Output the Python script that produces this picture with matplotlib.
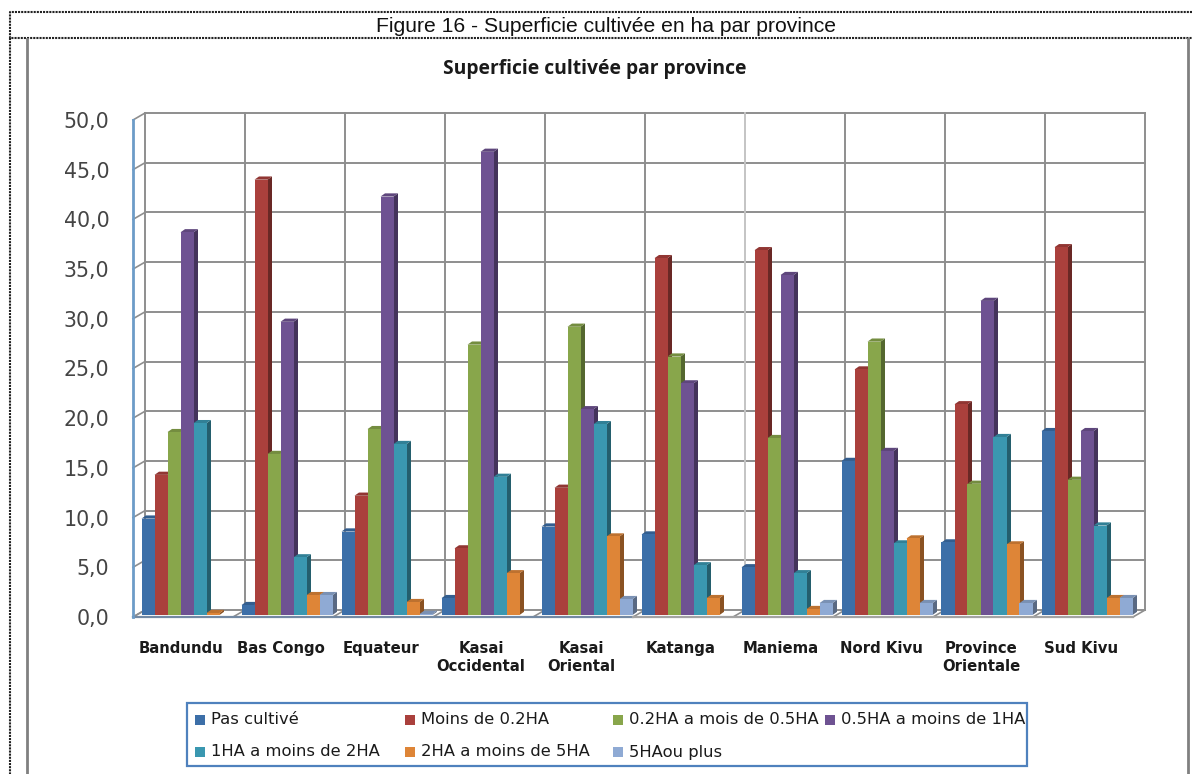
import matplotlib
matplotlib.use('Agg')
import matplotlib.pyplot as plt
from matplotlib.patches import Rectangle
from matplotlib.colors import to_rgb

provinces = ['Bandundu', 'Bas Congo', 'Equateur', 'Kasai\nOccidental', 'Kasai\nOriental',
             'Katanga', 'Maniema', 'Nord Kivu', 'Province\nOrientale', 'Sud Kivu']
pas_cultive = [9.7, 1.0, 8.4, 1.7, 8.9, 8.1, 4.8, 15.5, 7.3, 18.5]
moins_02 = [14.1, 43.8, 12.0, 6.7, 12.8, 35.9, 36.7, 24.7, 21.2, 37.0]
de_02_05 = [18.4, 16.2, 18.7, 27.2, 29.0, 26.0, 17.8, 27.5, 13.2, 13.6]
de_05_1 = [38.5, 29.5, 42.1, 46.6, 20.7, 23.3, 34.2, 16.5, 31.6, 18.5]
de_1_2 = [19.3, 5.8, 17.2, 13.9, 19.2, 5.0, 4.2, 7.2, 17.9, 9.0]
de_2_5 = [0.2, 2.0, 1.3, 4.2, 7.9, 1.7, 0.6, 7.7, 7.1, 1.7]
plus_5 = [0.0, 2.0, 0.1, 0.0, 1.6, 0.0, 1.2, 1.2, 1.2, 1.7]

series = [pas_cultive, moins_02, de_02_05, de_05_1, de_1_2, de_2_5, plus_5]
noms = ['Pas cultivé', 'Moins de 0.2HA', '0.2HA a mois de 0.5HA', '0.5HA a moins de 1HA',
        '1HA a moins de 2HA', '2HA a moins de 5HA', '5HAou plus']
couleurs = ['#3c6fa8', '#aa403c', '#88a64b', '#6e5292', '#3a97b0', '#de8537', '#8faad4']
graduations = list(range(0, 51, 5))

W, H = 1192, 774
LARGEUR_BARRE = 0.13
DECALAGE = 0.04
PROF_X, PROF_Y = 0.12, 0.7        # profondeur du mur du fond
BARRE_X, BARRE_Y = 0.045, 0.32    # profondeur d'une barre
BASE = 0.2
GRIS = '#8e8e8e'
BLEU = '#6c9cc8'


def fx(px):
    return px / W


def fy(px):
    return 1 - px / H


def assombrir(couleur, k):
    return tuple(c * k for c in to_rgb(couleur))


def cadres(fig):
    pointille = dict(color='#222222', lw=1.5, ls=(0, (1, 0.5)))
    fig.add_artist(plt.Line2D([fx(1192), fx(10), fx(10), fx(1192)],
                              [fy(12), fy(12), fy(38), fy(38)], **pointille))
    fig.add_artist(plt.Line2D([fx(10), fx(10)], [fy(38), fy(774)], **pointille))
    fig.add_artist(plt.Line2D([fx(27), fx(27)], [fy(39), fy(774)], color='#808080', lw=2))
    fig.add_artist(plt.Line2D([fx(1188), fx(1188)], [fy(39), fy(774)], color='#808080', lw=2))
    fig.text(fx(606), fy(26.5), 'Figure 16 - Superficie cultivée en ha par province',
             family='Liberation Sans', fontsize=15.2, ha='center', va='center', color='#111111')
    fig.text(fx(595), fy(69), 'Superficie cultivée par province', family='Open Sans',
             weight='bold', fontsize=13.9, ha='center', va='center', color='#1a1a1a')


def murs(ax):
    for v in graduations:
        ax.plot([PROF_X, 10 + PROF_X], [v + PROF_Y, v + PROF_Y], color=GRIS, lw=1.4, zorder=1)
        ax.plot([0, PROF_X], [v, v + PROF_Y], color=GRIS, lw=1.2, zorder=1)
    for i in range(11):
        couleur = '#c4c4c4' if i == 6 else GRIS
        ax.plot([i + PROF_X, i + PROF_X], [PROF_Y, 50 + PROF_Y], color=couleur, lw=1.4, zorder=1)
        ax.plot([i, i + PROF_X], [0, PROF_Y], color=GRIS, lw=1.2, zorder=1)
    # la ligne de base reste bleutee sur la moitie gauche
    ax.plot([0, 5], [0, 0], color='#7389a3', lw=1.6, zorder=1)
    ax.plot([5, 10], [0, 0], color='#a3a3a3', lw=1.6, zorder=1)


def barres(ax):
    rang = 2
    for i in range(len(provinces)):
        debut = i + 0.5 + DECALAGE - LARGEUR_BARRE * len(series) / 2
        for j, valeurs in enumerate(series):
            v = valeurs[i]
            if v <= 0:
                continue
            x0 = debut + j * LARGEUR_BARRE
            x1 = x0 + LARGEUR_BARRE
            haut = BASE + v
            ax.fill([x1, x1 + BARRE_X, x1 + BARRE_X, x1],
                    [BASE, BASE + BARRE_Y, haut + BARRE_Y, haut],
                    color=assombrir(couleurs[j], 0.62), lw=0, zorder=rang)
            ax.fill([x0, x0 + BARRE_X, x1 + BARRE_X, x1],
                    [haut, haut + BARRE_Y, haut + BARRE_Y, haut],
                    color=assombrir(couleurs[j], 0.85), lw=0, zorder=rang)
            ax.bar(x0, v, LARGEUR_BARRE, bottom=BASE, align='edge',
                   color=couleurs[j], lw=0, zorder=rang + 1)
            rang += 2


def legende(fig):
    fig.add_artist(Rectangle((fx(187), fy(766)), fx(1027 - 187), (766 - 703) / H,
                             fill=False, ec='#4f81bd', lw=1.6, transform=fig.transFigure))
    colonnes = [195, 405, 613, 825]
    lignes = [720, 752]
    for k, (nom, couleur) in enumerate(zip(noms, couleurs)):
        x = colonnes[k % 4]
        y = lignes[k // 4]
        fig.add_artist(Rectangle((fx(x), fy(y + 5)), 10 / W, 10 / H, fc=couleur, ec='none',
                                 transform=fig.transFigure))
        fig.text(fx(x + 16), fy(y), nom, family='DejaVu Sans', fontsize=11.75,
                 ha='left', va='center', color='#1a1a1a')


if __name__ == '__main__':
    fig = plt.figure(figsize=(W / 100, H / 100), dpi=100)
    ax = fig.add_axes([fx(133), fy(617), 1000 / W, (617 - 120) / H])
    ax.set_xlim(0, 10)
    ax.set_ylim(0, 50)
    for cote in ['top', 'right', 'bottom']:
        ax.spines[cote].set_visible(False)
    ax.spines['left'].set_color(BLEU)
    ax.spines['left'].set_linewidth(2)
    ax.patch.set_alpha(0)

    ax.set_yticks(graduations)
    ax.set_yticklabels([f'{v},0' for v in graduations], fontsize=14.8, color='#444444',
                       family='DejaVu Sans')
    ax.set_xticks([i + 0.48 for i in range(len(provinces))])
    ax.set_xticklabels(provinces, fontsize=10.7, weight='bold', color='#1a1a1a',
                       family='DejaVu Sans', linespacing=1.3, va='top')
    ax.tick_params(axis='both', length=0)
    ax.tick_params(axis='y', pad=17)
    ax.tick_params(axis='x', pad=17)

    murs(ax)
    barres(ax)
    for artiste in ax.get_children():
        artiste.set_clip_on(False)

    cadres(fig)
    legende(fig)
    fig.savefig('out.png', dpi=100)
